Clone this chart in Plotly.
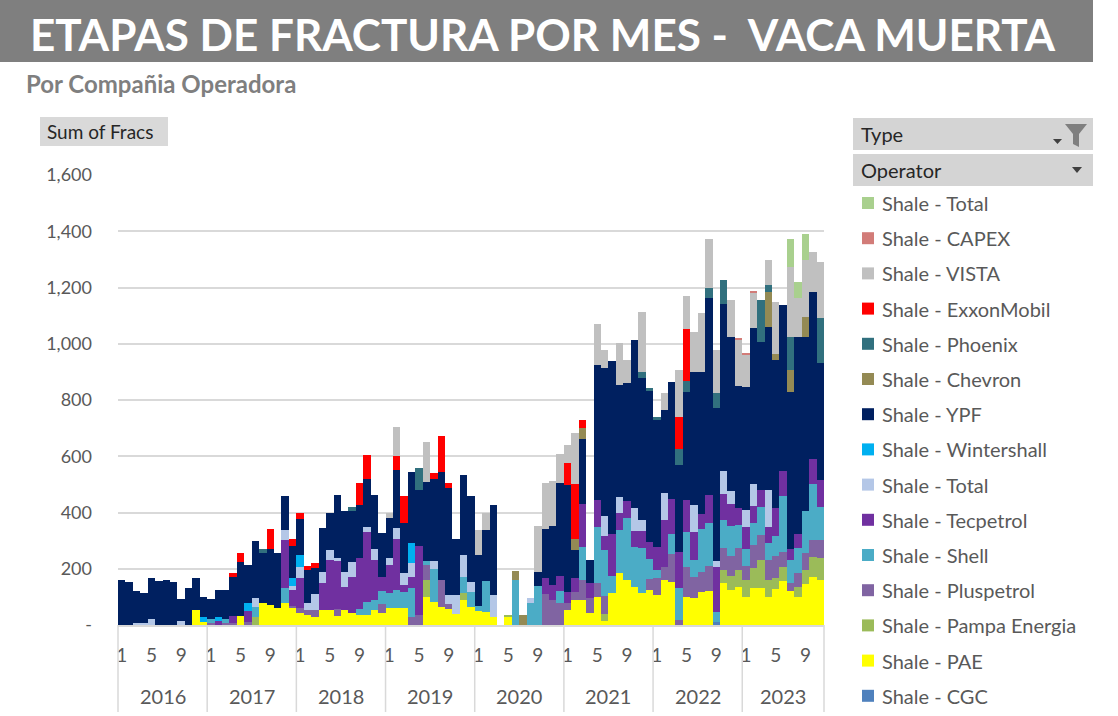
import plotly.graph_objects as go

# --- data: fracs per month, Jan 2016 .. Nov 2023 (2023 has 11 months) ----
YEARS = ["2016", "2017", "2018", "2019", "2020", "2021", "2022", "2023"]
MONTHS_IN_YEAR = [12, 12, 12, 12, 12, 12, 12, 11]
MONTH_NUM = [m for n in MONTHS_IN_YEAR for m in range(1, n + 1)]
MONTH_LABELS = [1, 5, 9]
Y_TICKS = [0, 200, 400, 600, 800, 1000, 1200, 1400, 1600]
Y_TICK_TEXT = ["-", "200", "400", "600", "800", "1,000", "1,200", "1,400", "1,600"]

cgc = ([0] * 12 + [0] * 12 + [0] * 12 + [0] * 12 + [0] * 12 + [0] * 12
       + [0, 0, 0, 0, 0, 0, 0, 0, 12, 0, 0, 0] + [0] * 11)
pae = ([0, 0, 0, 0, 0, 0, 0, 0, 0, 0, 53, 12]
       + [0, 0, 0, 0, 32, 0, 0, 77, 71, 62, 77, 60]
       + [41, 36, 30, 53, 53, 33, 53, 41, 37, 36, 53, 41]
       + [60, 60, 59, 0, 0, 100, 83, 65, 56, 40, 89, 65]
       + [49, 47, 30, 0, 30, 0, 0, 0, 0, 0, 0, 0]
       + [53, 89, 89, 42, 100, 15, 113, 184, 160, 136, 113, 124]
       + [107, 160, 154, 0, 100, 95, 118, 121, 0, 148, 124, 135]
       + [100, 133, 131, 100, 127, 158, 120, 100, 145, 172, 160])
pampa = ([0] * 12
         + [0, 0, 0, 0, 0, 0, 28, 0, 0, 0, 0, 0]
         + [0] * 12
         + [0, 0, 0, 0, 0, 59, 0, 0, 0, 0, 24, 0]
         + [0, 0, 0, 0, 6, 0, 0, 0, 0, 0, 0, 0]
         + [0, 0, 0, 0, 0, 24, 0, 0, 0, 0, 0, 0]
         + [0, 0, 0, 0, 0, 0, 0, 0, 0, 47, 50, 60]
         + [60, 70, 100, 60, 40, 50, 0, 35, 50, 71, 77])
pluspetrol = ([0] * 12
              + [8, 0, 8, 7, 0, 11, 0, 0, 0, 0, 0, 8]
              + [18, 18, 24, 0, 0, 23, 0, 0, 0, 0, 0, 34]
              + [0, 0, 0, 30, 36, 53, 0, 95, 20, 0, 0, 0]
              + [0, 0, 0, 0, 0, 0, 0, 0, 0, 109, 89, 80]
              + [25, 30, 71, 53, 50, 63, 0, 0, 0, 0, 0, 40]
              + [60, 48, 100, 18, 107, 77, 71, 90, 0, 80, 71, 80]
              + [50, 80, 90, 70, 80, 50, 30, 50, 60, 59, 65])
shell = ([0] * 12
         + [12, 0, 12, 0, 0, 0, 35, 0, 0, 0, 53, 0]
         + [0, 0, 0, 0, 0, 0, 0, 0, 20, 47, 36, 47]
         + [55, 65, 60, 102, 0, 14, 115, 0, 0, 0, 59, 53]
         + [20, 110, 0, 0, 0, 160, 0, 77, 137, 0, 0, 40]
         + [0, 0, 118, 0, 200, 166, 60, 154, 220, 140, 160, 70]
         + [30, 0, 70, 113, 124, 60, 154, 150, 36, 100, 107, 80]
         + [60, 80, 100, 60, 70, 200, 80, 90, 150, 200, 118])
tecpetrol = ([0] * 12
             + [0, 15, 0, 25, 0, 40, 0, 0, 0, 0, 174, 55]
             + [107, 0, 0, 95, 178, 172, 83, 130, 180, 249, 142, 50]
             + [100, 180, 25, 40, 245, 0, 0, 0, 0, 0, 0, 0]
             + [0, 0, 0, 0, 0, 0, 0, 0, 0, 59, 53, 54]
             + [40, 47, 154, 53, 95, 47, 150, 59, 60, 60, 60, 60]
             + [80, 166, 124, 130, 112, 100, 53, 100, 160, 90, 77, 60]
             + [80, 60, 60, 60, 100, 90, 40, 50, 0, 89, 95])
total_l = ([0, 0, 8, 8, 20, 0, 0, 0, 14, 0, 0, 0]
           + [0, 0, 0, 0, 0, 0, 34, 0, 0, 0, 33, 15]
           + [39, 24, 55, 41, 36, 10, 53, 53, 0, 18, 41, 0]
           + [24, 40, 40, 47, 0, 0, 30, 0, 30, 65, 77, 36]
           + [0, 0, 77, 0, 0, 0, 0, 18, 0, 0, 0, 0]
           + [0, 0, 0, 0, 0, 71, 0, 59, 0, 80, 40, 0]
           + [0, 95, 0, 0, 0, 95, 0, 0, 18, 83, 47, 0]
           + [60, 77, 0, 130, 0, 0, 0, 0, 0, 0, 0])
wintershall = ([0, 0, 0, 0, 0, 0, 0, 0, 0, 0, 0, 15]
               + [0, 12, 0, 0, 0, 26, 0, 0, 0, 0, 0, 30]
               + [44, 0, 0, 0, 0, 0, 0, 0, 0, 0, 0, 0]
               + [0, 0, 0, 71, 0, 0, 0, 0, 0, 0, 0, 0]
               + [0] * 12 + [0] * 12 + [0] * 12 + [0] * 11)
ypf = ([160, 152, 112, 105, 146, 156, 159, 152, 77, 131, 113, 71]
       + [71, 97, 104, 140, 193, 136, 202, 180, 201, 193, 121, 112]
       + [127, 118, 92, 156, 133, 226, 217, 181, 190, 168, 192, 154]
       + [140, 205, 178, 255, 200, 284, 290, 385, 380, 200, 284, 305]
       + [180, 180, 320, 0, 0, 0, 0, 0, 50, 172, 210, 330]
       + [380, 100, 228, 83, 480, 527, 617, 397, 420, 597, 504, 537]
       + [451, 296, 417, 307, 385, 474, 505, 700, 545, 595, 549, 435]
       + [438, 557, 526, 581, 524, 590, 560, 700, 620, 594, 415])
chevron = ([0] * 12 + [0] * 12 + [0] * 12 + [0] * 12
           + [0, 0, 0, 0, 0, 33, 36, 0, 0, 0, 0, 0]
           + [0, 41, 39, 0, 0, 0, 0, 0, 0, 0, 0, 0]
           + [0] * 12
           + [0, 0, 0, 124, 24, 0, 77, 0, 71, 0, 0])
phoenix = ([0] * 12
           + [0, 0, 0, 0, 0, 0, 0, 13, 0, 0, 0, 0]
           + [0, 0, 0, 0, 0, 0, 0, 14, 0, 0, 0, 0]
           + [0, 0, 0, 0, 78, 0, 0, 0, 0, 0, 0, 0]
           + [0] * 12
           + [0, 0, 0, 0, 0, 0, 0, 0, 0, 0, 24, 10]
           + [10, 0, 0, 59, 41, 0, 0, 36, 53, 83, 0, 0]
           + [0, 0, 148, 24, 0, 0, 118, 0, 0, 0, 160])
exxon = ([0] * 12
         + [0, 0, 0, 14, 30, 0, 0, 0, 68, 0, 0, 25]
         + [24, 14, 18, 0, 0, 0, 0, 0, 79, 86, 0, 0]
         + [0, 50, 97, 0, 0, 0, 21, 127, 20, 0, 0, 0]
         + [0] * 12
         + [77, 196, 30, 0, 0, 0, 0, 0, 0, 0, 0, 0]
         + [0, 0, 0, 113, 184, 0, 0, 0, 0, 0, 0, 0]
         + [0] * 11)
vista = ([0] * 12 + [0] * 12 + [0] * 12
         + [20, 105, 0, 0, 0, 142, 0, 0, 0, 0, 0, 0]
         + [89, 60, 0, 0, 0, 0, 0, 0, 165, 166, 160, 104]
         + [65, 178, 0, 0, 146, 65, 0, 148, 83, 0, 213, 0]
         + [0, 59, 0, 166, 118, 142, 207, 175, 154, 0, 130, 166]
         + [112, 124, 0, 89, 184, 0, 249, 136, 201, 142, 201])
capex = ([0] * 12 * 6
         + [0, 0, 0, 0, 0, 0, 0, 0, 0, 0, 0, 3]
         + [6, 6, 0, 0, 0, 0, 0, 0, 0, 0, 0])
total_g = ([0] * 12 * 7
           + [0, 0, 0, 0, 0, 0, 98, 59, 95, 0, 0])

# stacking order bottom -> top (legend lists them top -> bottom)
SERIES = [
    ("Shale - CGC", cgc, "#4F81BD"),
    ("Shale - PAE", pae, "#FFFF00"),
    ("Shale - Pampa Energia", pampa, "#9BBB59"),
    ("Shale - Pluspetrol", pluspetrol, "#8064A2"),
    ("Shale - Shell", shell, "#4BACC6"),
    ("Shale - Tecpetrol", tecpetrol, "#7030A0"),
    ("Shale - Total", total_l, "#B4C7E7"),
    ("Shale - Wintershall", wintershall, "#00B0F0"),
    ("Shale - YPF", ypf, "#002060"),
    ("Shale - Chevron", chevron, "#948A54"),
    ("Shale - Phoenix", phoenix, "#31707E"),
    ("Shale - ExxonMobil", exxon, "#FF0000"),
    ("Shale - VISTA", vista, "#C0C0C0"),
    ("Shale - CAPEX", capex, "#D27C78"),
    ("Shale - Total", total_g, "#A9D08E"),
]

# --- page geometry (pixels) ----------------------------------------------
W, H = 1118, 716
L, R, T, B = 118, 824, 175, 625
FONT = "Lato"
GREY_TXT = "#595959"
GRID = "#D9D9D9"
N = len(MONTH_NUM)


def px(X):
    return (X - L) / (R - L)


def py(Y):
    return (B - Y) / (B - T)


x = list(range(N))
fig = go.Figure()
for name, vals, color in SERIES:
    fig.add_trace(go.Bar(x=x, y=vals, name=name, marker_color=color,
                         marker_line_width=0, showlegend=False,
                         hovertemplate=name + ": %{y}<extra></extra>"))

shapes = []
annotations = []

# title banner + subtitle
shapes.append(dict(type="rect", xref="paper", yref="paper", x0=px(0), x1=px(1093),
                   y0=py(62), y1=py(0), fillcolor="#7F7F7F", line_width=0, layer="below"))
annotations.append(dict(text="<b>ETAPAS DE FRACTURA POR MES -  VACA MUERTA</b>",
                        x=px(28), y=py(34), xanchor="left", yanchor="middle",
                        font=dict(family=FONT, size=44, color="white")))
annotations.append(dict(text="<b>Por Compañia Operadora</b>", x=px(24), y=py(84),
                        xanchor="left", yanchor="middle",
                        font=dict(family=FONT, size=24, color="#7F7F7F")))

# "Sum of Fracs" field button
shapes.append(dict(type="rect", xref="paper", yref="paper", x0=px(40), x1=px(168),
                   y0=py(146), y1=py(117), fillcolor="#D9D9D9", line_width=0))
annotations.append(dict(text="Sum of Fracs", x=px(45), y=py(131.5), xanchor="left",
                        yanchor="middle", font=dict(family=FONT, size=19, color="#262626")))

# Type / Operator filter buttons
for top, label in ((118, "Type"), (154, "Operator")):
    shapes.append(dict(type="rect", xref="paper", yref="paper", x0=px(853), x1=px(1093),
                       y0=py(top + 32), y1=py(top), fillcolor="#D4D4D4", line_width=0))
    annotations.append(dict(text=label, x=px(859), y=py(top + 16), xanchor="left",
                            yanchor="middle", font=dict(family=FONT, size=20, color="#262626")))


def path(points):
    return "M " + " L ".join(f"{px(a)},{py(b)}" for a, b in points) + " Z"


shapes.append(dict(type="path", xref="paper", yref="paper", line_width=0,
                   fillcolor="#404040",
                   path=path([(1053, 139), (1062, 139), (1057.5, 144)])))
shapes.append(dict(type="path", xref="paper", yref="paper", line_width=0,
                   fillcolor="#7F7F7F",
                   path=path([(1065, 124), (1087, 124), (1079, 134), (1079, 147),
                              (1073, 144), (1073, 134)])))
shapes.append(dict(type="path", xref="paper", yref="paper", line_width=0,
                   fillcolor="#404040",
                   path=path([(1072, 167), (1082, 167), (1077, 173)])))

# legend (top -> bottom = reverse stacking order)
for i, (name, _, color) in enumerate(reversed(SERIES)):
    yc = 203 + 35.2 * i
    shapes.append(dict(type="rect", xref="paper", yref="paper", x0=px(862), x1=px(874),
                       y0=py(yc + 6), y1=py(yc - 6), fillcolor=color, line_width=0))
    annotations.append(dict(text=name, x=px(880), y=py(yc), xanchor="left",
                            yanchor="middle", font=dict(family=FONT, size=20, color=GREY_TXT)))

# multi-level category axis: year separators + year labels
start = 0
for year, n in zip(YEARS, MONTHS_IN_YEAR):
    shapes.append(dict(type="line", xref="paper", yref="paper", x0=start / N, x1=start / N,
                       y0=py(712), y1=0, line=dict(color=GRID, width=1.5)))
    annotations.append(dict(text=year, x=(start + n / 2) / N, y=py(696), xanchor="center",
                            yanchor="middle", font=dict(family=FONT, size=20, color=GREY_TXT)))
    start += n
shapes.append(dict(type="line", xref="paper", yref="paper", x0=1, x1=1,
                   y0=py(712), y1=0, line=dict(color=GRID, width=1.5)))

month_vals = [i for i, m in enumerate(MONTH_NUM) if m in MONTH_LABELS]
month_text = [str(MONTH_NUM[i]) for i in month_vals]

fig.update_layout(
    width=W, height=H, barmode="stack", bargap=0,
    margin=dict(l=L, r=W - R, t=T, b=H - B, pad=0),
    paper_bgcolor="white", plot_bgcolor="white",
    font=dict(family=FONT, color=GREY_TXT),
    xaxis=dict(range=[-0.5, N - 0.5], tickvals=month_vals, ticktext=month_text,
               showgrid=False, zeroline=False, showline=True, linecolor=GRID, linewidth=1.5,
               ticks="", ticklabelstandoff=12, tickfont=dict(size=19, color=GREY_TXT)),
    yaxis=dict(range=[0, 1600], tickvals=Y_TICKS, ticktext=Y_TICK_TEXT,
               showgrid=True, gridcolor=GRID, gridwidth=1.5, zeroline=False,
               ticks="", ticklabelstandoff=25, tickfont=dict(size=18, color=GREY_TXT)),
    shapes=shapes, annotations=[dict(a, xref="paper", yref="paper", showarrow=False)
                                for a in annotations],
    showlegend=False,
)

fig.write_html("out.html", config={"displayModeBar": False},
               post_script="document.body.style.margin='0';document.body.style.overflow='hidden';")
